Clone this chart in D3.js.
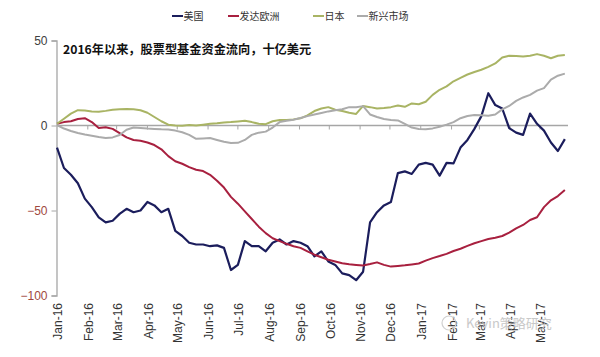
<!DOCTYPE html>
<html>
<head>
<meta charset="utf-8">
<script src="https://cdn.jsdelivr.net/npm/d3@7/dist/d3.min.js"></script>
<style>
  html, body { margin: 0; padding: 0; background: #fff; }
  svg { display: block; }
</style>
</head>
<body>
<svg id="chart" width="600" height="357"></svg>
<script>
// ---- Data (weekly, billions USD, cumulative flows since Jan 2016) ----
const startDate = "2016-01-01";
const seriesNames = ["美国", "发达欧洲", "日本", "新兴市场"];
const usValues = [-13,-25,-29,-34,-43,-48,-54,-57,-56,-52,-49,-51,-50,-45,-47,-51,-49,-62,-65,-69,
  -70,-70,-71,-70.5,-72,-85,-82,-68,-71,-71,-74,-69,-67,-70,-68,-69,-71,-77,-74,-80,
  -82,-87,-88,-91,-86,-57,-51,-47,-45,-28,-27,-28.5,-23,-22,-23,-29.5,-22,-22.3,-13,-8.5,
  -2,5.5,19,12,10,-1.5,-4.2,-5.5,7,1,-3,-10,-15,-8];
const europeValues = [1,2,2.5,3.8,4.3,2,-1.5,-1,-2,-4.5,-7,-8.5,-9,-10,-11.5,-14,-18,-21,-22.5,-24.5,
  -26,-26.8,-29,-32.5,-36.5,-42,-46,-50.5,-55,-59.5,-63.3,-66.3,-68,-69.6,-71,-72,-74,-76,-77.5,-79,
  -80,-81,-81.6,-82,-82.4,-81.5,-80.5,-82,-83,-82.6,-82.2,-81.7,-81.2,-79.5,-78,-76.8,-75.5,-73.8,-72.5,-70.8,
  -69.3,-68,-66.8,-66,-65,-63,-60.5,-58.5,-55.6,-54,-48,-44,-41.5,-38];
const japanValues = [1,4,7,9,8.8,8.3,8.1,8.6,9.3,9.6,9.7,9.5,9,7.5,5,2.5,0.5,0,-0.2,0.3,
  0,0.5,1,1.3,1.8,2,2.4,2.8,2,1,0.8,2.5,3.2,3.3,3.6,4.2,6,8.5,10,10.8,
  9.3,8.5,7.5,6.8,11.5,10.8,10,10.3,10.8,11.8,11,13,12.5,14,18,21,23,26,28,30,
  31.5,32.8,34.5,36.5,40,41,40.9,40.6,41,42,41,39.6,41,41.5];
const emValues = [0.3,-1.8,-3.2,-4.4,-5.3,-6,-6.7,-7.3,-7,-5.6,-2.5,-1.2,-1.4,-1.8,-2,-2.2,-2.3,-3,-4,-5.5,
  -7.8,-7.6,-7.4,-8.5,-9.6,-10.3,-10.2,-8.5,-5.5,-4.2,-3.6,-1.2,2,2.8,3.4,4.4,5.5,6.5,7.4,8.3,
  9,9.6,10.8,10.8,11.4,6.5,5,3.8,3.2,3,1,-1.2,-2.1,-2.2,-1.7,-0.7,0.5,2,4.3,5.6,
  6.2,6.1,5.8,6.5,9.5,11.5,14.5,16.5,18,20.5,22,27,29.3,30.5];
const yTicks = [50, 0, -50, -100];
const titleText = "2016年以来，股票型基金资金流向，十亿美元";
const watermark = "Kevin策略研究";

// ---- Build ----
const parse = d3.utcParse("%Y-%m-%d");
const t0 = parse(startDate);
const dates = usValues.map((_, i) => d3.utcDay.offset(t0, 7 * i));
const allSeries = [usValues, europeValues, japanValues, emValues];
const colors = ["#1b1d5c", "#a8203f", "#a9b464", "#ababab"];

const svg = d3.select("#chart");
const x = d3.scaleUtc()
  .domain([parse("2016-01-01"), parse("2017-05-01")])
  .range([57, 540]);
const y = d3.scaleLinear().domain([-100, 50]).range([295.5, 40.5]);

// zero line with month ticks
const monthTicks = d3.utcMonth.range(parse("2016-01-01"), parse("2017-05-02"));
svg.append("line")
  .attr("x1", x(parse("2016-01-01"))).attr("x2", 568)
  .attr("y1", y(0)).attr("y2", y(0))
  .attr("stroke", "#a6a6a6").attr("stroke-width", 1.3);
svg.append("g").selectAll("line").data(monthTicks.slice(1)).join("line")
  .attr("x1", d => x(d)).attr("x2", d => x(d))
  .attr("y1", y(0)).attr("y2", y(0) + 4)
  .attr("stroke", "#a6a6a6").attr("stroke-width", 1);

// y axis
const yAxis = d3.axisLeft(y).tickValues(yTicks).tickSize(5).tickPadding(4);
const gy = svg.append("g").attr("transform", "translate(56.5,0)").call(yAxis);
gy.select(".domain").attr("stroke", "#a6a6a6").attr("stroke-width", 1.3);
gy.selectAll(".tick line").attr("stroke", "#a6a6a6");
gy.selectAll(".tick text")
  .attr("font-family", "Liberation Sans, Arial, sans-serif")
  .attr("font-size", 12)
  .attr("fill", d => d < 0 ? "#a0483e" : "#404040");

// x labels (rotated)
svg.append("g").selectAll("text").data(monthTicks).join("text")
  .attr("transform", d => `translate(${x(d) + 1},303) rotate(-90)`)
  .attr("text-anchor", "end")
  .attr("dy", "0.35em")
  .attr("font-family", "Liberation Sans, Arial, sans-serif")
  .attr("font-size", 12)
  .attr("fill", "#333")
  .text(d => d3.utcFormat("%b-%y")(d));

// lines
const line = d3.line().x((d, i) => x(dates[i])).y(d => y(d));
svg.append("g").selectAll("path").data(allSeries).join("path")
  .attr("d", d => line(d))
  .attr("fill", "none")
  .attr("stroke", (d, i) => colors[i])
  .attr("stroke-width", (d, i) => i === 0 ? 2.2 : 2)
  .attr("stroke-linejoin", "round");

// title
svg.append("text")
  .attr("x", 63).attr("y", 54)
  .attr("font-family", "Noto Sans CJK SC, sans-serif")
  .attr("font-weight", "bold")
  .attr("font-size", 12.2)
  .attr("fill", "#111")
  .text(titleText);

// legend
const legendX = [172, 228, 313, 357];
const lg = svg.append("g");
seriesNames.forEach((name, i) => {
  lg.append("line")
    .attr("x1", legendX[i]).attr("x2", legendX[i] + 11)
    .attr("y1", 16).attr("y2", 16)
    .attr("stroke", colors[i]).attr("stroke-width", 2);
  lg.append("text")
    .attr("x", legendX[i] + 11.5).attr("y", 20)
    .attr("font-family", "Noto Sans CJK SC, sans-serif")
    .attr("font-size", 10)
    .attr("fill", "#333")
    .text(name);
});

// watermark
svg.append("circle").attr("cx", 449).attr("cy", 323).attr("r", 7)
  .attr("fill", "none").attr("stroke", "#d0d0d0").attr("stroke-width", 1.2);
svg.append("text")
  .attr("x", 466).attr("y", 328)
  .attr("font-family", "Noto Sans CJK SC, sans-serif")
  .attr("font-size", 13)
  .attr("fill", "#c4c4c4")
  .attr("opacity", 0.9)
  .text(watermark);
</script>
</body>
</html>
